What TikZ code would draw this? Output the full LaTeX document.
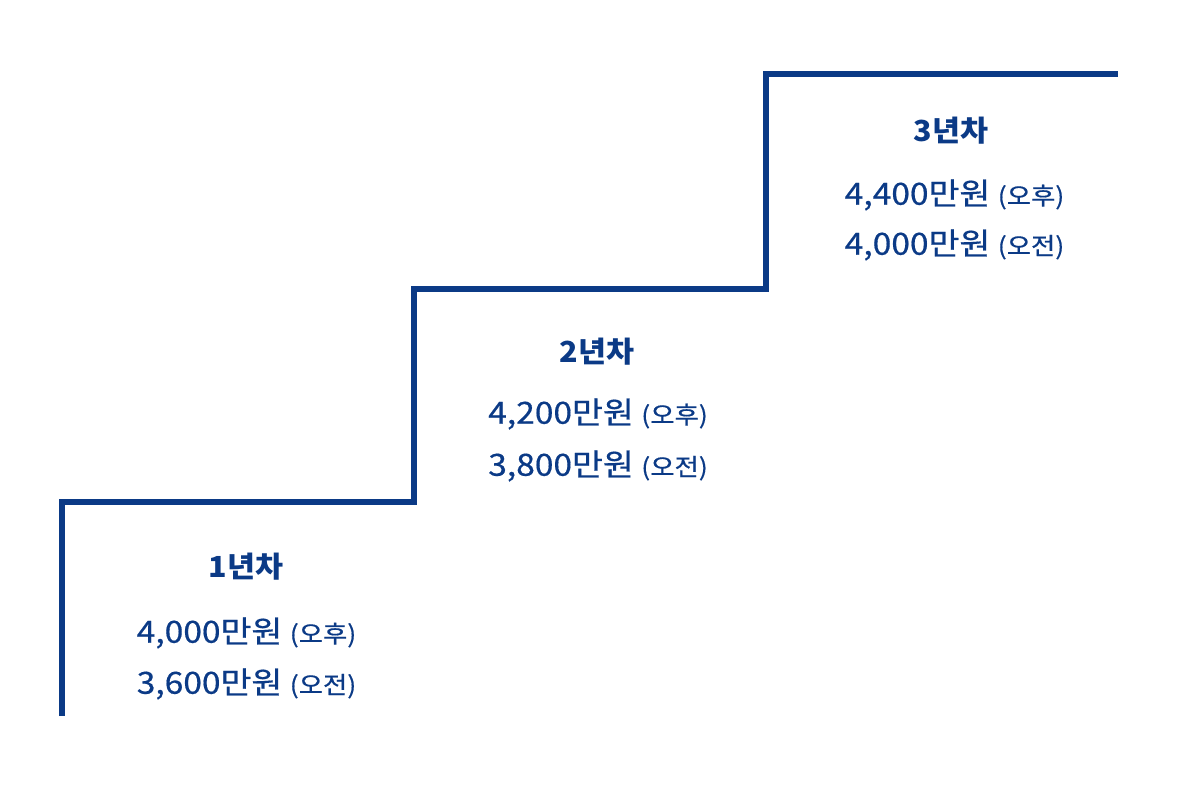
\documentclass[tikz,border=0pt]{standalone}
\usepackage{fontspec}
\newfontfamily\kr[FakeStretch=1.1,FakeBold=0.5]{Noto Sans CJK KR}
\newfontfamily\krb[FakeStretch=1.05]{Noto Sans CJK KR}
\definecolor{navy}{HTML}{0B3A86}
\begin{document}
\begin{tikzpicture}[x=1pt,y=-1pt,
  stair/.style={draw=navy,line width=6pt,line join=miter,line cap=butt},
  title/.style={text=navy,font=\krb\bfseries\fontsize{29}{32}\selectfont,inner sep=0pt,anchor=center},
  amount/.style={text=navy,font=\kr\fontsize{30.5}{34}\selectfont,inner sep=0pt,anchor=center}]
\useasboundingbox (0,0) rectangle (1182,791);
\coordinate (s0) at (62,716);
\coordinate (s1) at (62,502);
\coordinate (s2) at (414,502);
\coordinate (s3) at (414,289);
\coordinate (s4) at (766,289);
\coordinate (s5) at (766,74);
\coordinate (s6) at (1118,74);
\draw[stair] (s0) -- (s1) -- (s2) -- (s3) -- (s4) -- (s5) -- (s6);
\def\smallp#1{{\fontsize{24}{28}\selectfont(#1)}}
\node[title] (t1) at (246,567) {1년차};
\node[amount] (a1) at (246.5,633) {4,000만원 \smallp{오후}};
\node[amount] (b1) at (246.5,684) {3,600만원 \smallp{오전}};
\node[title] (t2) at (597,352) {2년차};
\node[amount] (a2) at (598,414) {4,200만원 \smallp{오후}};
\node[amount] (b2) at (598,466) {3,800만원 \smallp{오전}};
\node[title] (t3) at (951,131) {3년차};
\node[amount] (a3) at (954.5,195) {4,400만원 \smallp{오후}};
\node[amount] (b3) at (954.5,245) {4,000만원 \smallp{오전}};
\end{tikzpicture}
\end{document}
